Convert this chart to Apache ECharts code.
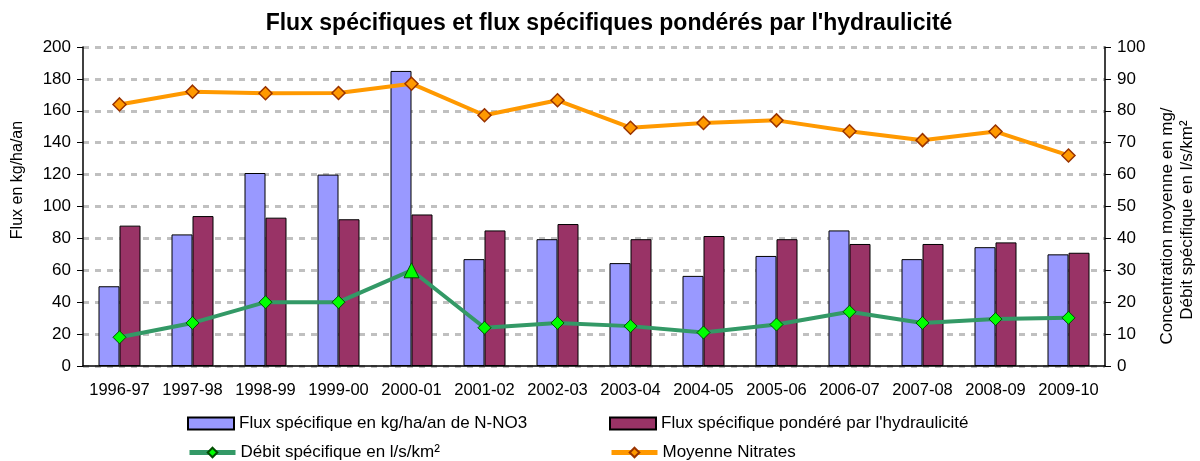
<!DOCTYPE html>
<html>
<head>
<meta charset="utf-8">
<script src="https://cdn.jsdelivr.net/npm/echarts@6/dist/echarts.min.js"></script>
<style>
  html, body { margin: 0; padding: 0; background: #fff; }
  .echarts_1 { width: 1200px; height: 461px; }
</style>
</head>
<body>
<div class="echarts_1"></div>
<script>
// données
var annees = ["1996-97", "1997-98", "1998-99", "1999-00", "2000-01", "2001-02", "2002-03",
  "2003-04", "2004-05", "2005-06", "2006-07", "2007-08", "2008-09", "2009-10"];
var fluxSpecifique = [50, 82.5, 121, 120, 185, 67, 79.5, 64.5, 56.5, 69, 85, 67, 74.5, 70];
var fluxPondere = [88, 94, 93, 92, 95, 85, 89, 79.5, 81.5, 79.5, 76.5, 76.5, 77.5, 71];
var debitSpecifique = [9, 13.5, 20, 20, 30, 12, 13.5, 12.5, 10.5, 13, 17, 13.5, 14.7, 15.1];
var moyenneNitrates = [82, 86, 85.5, 85.6, 88.5, 78.6, 83.3, 74.7, 76.2, 77, 73.6, 70.8, 73.5, 66];
var nomsSeries = ["Flux spécifique en kg/ha/an de N-NO3", "Flux spécifique pondéré par l'hydraulicité",
  "Débit spécifique en l/s/km²", "Moyenne Nitrates"];

var police = "Liberation Sans, Arial, sans-serif";
var echarts1 = echarts.init(document.querySelector(".echarts_1"));

// le point 2000-01 du débit est un triangle
var debitData = debitSpecifique.map(function (v, i) {
  if (i === 4) return { value: v, symbol: "triangle", symbolSize: 15 };
  return v;
});

function legende(nom, left, top, icon) {
  var l = {
    data: [nom],
    left: left,
    top: top,
    itemWidth: 46,
    itemHeight: 12,
    textStyle: { fontFamily: police, fontSize: 17, color: "#000" }
  };
  if (icon) l.icon = icon;
  else l.lineStyle = { width: 5 };
  return l;
}

var option = {
  animation: false,
  title: {
    text: "Flux spécifiques et flux spécifiques pondérés par l'hydraulicité",
    left: 604,
    textAlign: "center",
    top: 7,
    textStyle: { fontFamily: police, fontSize: 23, fontWeight: "bold", color: "#000" }
  },
  legend: [
    legende(nomsSeries[0], 182, 410, "rect"),
    legende(nomsSeries[1], 604, 410, "rect"),
    legende(nomsSeries[2], 182, 439),
    legende(nomsSeries[3], 604, 439)
  ],
  grid: { left: 83, right: 95, top: 47, bottom: 95 },
  xAxis: {
    type: "category",
    data: annees,
    axisLine: { lineStyle: { color: "#000", width: 1.5 } },
    axisTick: { length: 5, lineStyle: { color: "#000" } },
    axisLabel: { interval: 0, fontFamily: police, fontSize: 16.5, color: "#000", margin: 16 }
  },
  yAxis: [
    {
      type: "value",
      min: 0,
      max: 200,
      interval: 20,
      axisLine: { show: true, lineStyle: { color: "#000", width: 1.5 } },
      axisTick: { show: true, length: 6, lineStyle: { color: "#000" } },
      axisLabel: { fontFamily: police, fontSize: 17, color: "#000", margin: 12 },
      splitLine: { lineStyle: { color: "#c0c0c0", width: 3, type: [6, 6] } }
    },
    {
      type: "value",
      min: 0,
      max: 100,
      interval: 10,
      axisLine: { show: true, lineStyle: { color: "#000", width: 1.5 } },
      axisTick: { show: true, length: 6, lineStyle: { color: "#000" } },
      axisLabel: { fontFamily: police, fontSize: 17, color: "#000", margin: 12 },
      splitLine: { show: false }
    }
  ],
  graphic: [
    {
      type: "text", x: 18, y: 180, rotation: Math.PI / 2,
      style: { text: "Flux en kg/ha/an", fontFamily: police, fontSize: 16, fill: "#000",
        textAlign: "center", textVerticalAlign: "middle" }
    },
    {
      type: "text", x: 1167, y: 226, rotation: Math.PI / 2,
      style: { text: "Concentration moyenne en mg/", fontFamily: police, fontSize: 17, fill: "#000",
        textAlign: "center", textVerticalAlign: "middle" }
    },
    {
      type: "text", x: 1187, y: 220, rotation: Math.PI / 2,
      style: { text: "Débit spécifique en l/s/km²", fontFamily: police, fontSize: 17, fill: "#000",
        textAlign: "center", textVerticalAlign: "middle" }
    }
  ],
  series: [
    {
      name: nomsSeries[0],
      type: "bar",
      barWidth: 21,
      barGap: "0%",
      itemStyle: { color: "#9999ff", borderColor: "#000", borderWidth: 1 },
      data: fluxSpecifique
    },
    {
      name: nomsSeries[1],
      type: "bar",
      barWidth: 21,
      barGap: "0%",
      itemStyle: { color: "#993366", borderColor: "#000", borderWidth: 1 },
      data: fluxPondere
    },
    {
      name: nomsSeries[2],
      type: "line",
      yAxisIndex: 1,
      symbol: "diamond",
      symbolSize: 13,
      lineStyle: { color: "#339966", width: 4 },
      itemStyle: { color: "#00ff00", borderColor: "#004d00", borderWidth: 1 },
      data: debitData
    },
    {
      name: nomsSeries[3],
      type: "line",
      yAxisIndex: 1,
      symbol: "diamond",
      symbolSize: 13,
      lineStyle: { color: "#ff9900", width: 4 },
      itemStyle: { color: "#ff9900", borderColor: "#993300", borderWidth: 1.5 },
      data: moyenneNitrates
    }
  ]
};

echarts1.setOption(option);
</script>
</body>
</html>
